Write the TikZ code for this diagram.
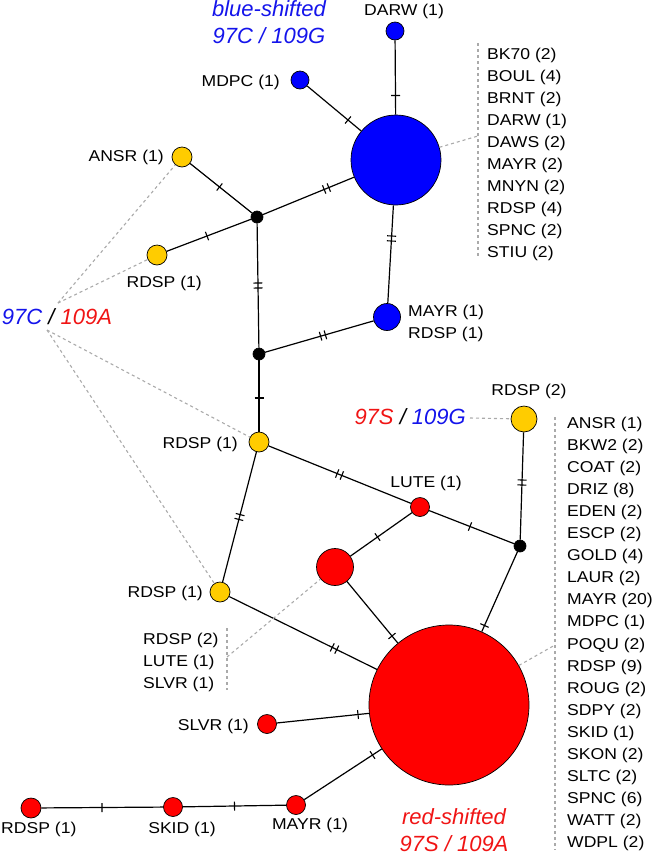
\documentclass[tikz,border=0pt]{standalone}
\usepackage{fontspec}
\setmainfont{Liberation Sans}[FakeStretch=1.12]
\newfontfamily\labfont{Liberation Sans}
\definecolor{nblue}{RGB}{0,0,255}
\definecolor{nred}{RGB}{255,0,0}
\definecolor{nyel}{RGB}{255,204,0}
\definecolor{dgray}{RGB}{170,170,170}
\definecolor{tblue}{RGB}{20,20,235}
\definecolor{tred}{RGB}{240,20,20}
\newcommand\lnk[3]{\draw[cn] (#1) -- (#2); \path (#1.center) -- (#2.center) pic[pos=0.5,sloped]{#3};}
\begin{document}
\begin{tikzpicture}[x=1pt,y=-1pt,
  hap/.style={circle,draw=black,line width=0.7pt,inner sep=0pt,minimum size=#1},
  bl/.style={hap=#1,fill=nblue},
  rd/.style={hap=#1,fill=nred},
  yl/.style={hap=#1,fill=nyel},
  mv/.style={hap=12pt,fill=black},
  cn/.style={line width=1.2pt,black},
  dsh/.style={line width=1.1pt,dgray,dash pattern=on 3pt off 3pt},
  lbl/.style={font=\fontsize{15.7}{22}\selectfont,inner sep=0pt},
  itl/.style={font=\labfont\itshape\fontsize{22}{27}\selectfont,inner sep=0pt},
  tk/.pic={\draw[line width=1.1pt] (0,-4.5pt) -- (0,4.5pt);},
  tktwo/.pic={\draw[line width=1.1pt] (-2.5pt,-4.5pt) -- (-2.5pt,4.5pt) (2.5pt,-4.5pt) -- (2.5pt,4.5pt);}
]
\useasboundingbox (0,0) rectangle (653,855);

% haplotype nodes
\node[bl=18pt] (darw) at (395,31) {};
\node[bl=18pt] (mdpc) at (300,80) {};
\node[bl=90pt] (bb) at (396,160) {};
\node[bl=27pt] (mayrb) at (387,317) {};
\node[mv] (b1) at (257,217) {};
\node[mv] (b2) at (259,354) {};
\node[mv] (b3) at (520,546) {};
\node[yl=20pt] (ansr) at (182,157) {};
\node[yl=20pt] (rdspa) at (157,255) {};
\node[yl=20pt] (rdspc) at (259,442) {};
\node[yl=26pt] (rdspd) at (524,419) {};
\node[yl=20pt] (rdspe) at (220,592) {};
\node[rd=19pt] (lute) at (420,507) {};
\node[rd=37pt] (mr) at (335,567) {};
\node[rd=160pt] (br) at (449,705) {};
\node[rd=19pt] (slvr) at (267,724) {};
\node[rd=20pt] (rdspf) at (31,808) {};
\node[rd=19pt] (skid) at (173,807) {};
\node[rd=19pt] (mayrr) at (296,805) {};

% connectors with mutation ticks
\lnk{darw}{bb}{tk}
\lnk{mdpc}{bb}{tk}
\lnk{b1}{bb}{tktwo}
\lnk{bb}{mayrb}{tktwo}
\lnk{ansr}{b1}{tk}
\lnk{rdspa}{b1}{tk}
\lnk{b1}{b2}{tktwo}
\lnk{b2}{mayrb}{tktwo}
\lnk{b2}{rdspc}{tk}
\lnk{rdspc}{lute}{tktwo}
\lnk{lute}{b3}{tk}
\lnk{rdspc}{rdspe}{tktwo}
\lnk{lute}{mr}{tk}
\lnk{rdspd}{b3}{tktwo}
\lnk{b3}{br}{tk}
\lnk{mr}{br}{tk}
\lnk{rdspe}{br}{tktwo}
\lnk{slvr}{br}{tk}
\lnk{mayrr}{br}{tk}
\lnk{skid}{mayrr}{tk}
\lnk{rdspf}{skid}{tk}

% labels
\node[lbl,anchor=base] (tdarw) at (404,15) {DARW (1)};
\node[lbl,anchor=base east] (tmdpc) at (280,86) {MDPC (1)};
\node[lbl,anchor=base east] (tansr) at (164,161) {ANSR (1)};
\node[lbl,anchor=base east] (trdspa) at (202,287) {RDSP (1)};
\node[lbl,anchor=base west] (tmayrb) at (408,316) {MAYR (1)};
\node[lbl,anchor=base west] (trdspb) at (408,338) {RDSP (1)};
\node[lbl,anchor=base] (trdspd) at (529,395) {RDSP (2)};
\node[lbl,anchor=base east] (trdspc) at (238,448) {RDSP (1)};
\node[lbl,anchor=base] (tlute) at (426,487) {LUTE (1)};
\node[lbl,anchor=base east] (trdspe) at (203,597) {RDSP (1)};
\node[lbl,anchor=base east] (tslvr) at (249,730) {SLVR (1)};
\node[lbl,anchor=base west] (trdspf) at (1,833) {RDSP (1)};
\node[lbl,anchor=base] (tskid) at (182,833) {SKID (1)};
\node[lbl,anchor=base] (tmayrr) at (310,829) {MAYR (1)};

% lists
\foreach \t [count=\i] in {BK70 (2),BOUL (4),BRNT (2),DARW (1),DAWS (2),MAYR (2),MNYN (2),RDSP (4),SPNC (2),STIU (2)}
  \node[lbl,anchor=base west] (la\i) at (487,{59+22.1*(\i-1)}) {\t};
\foreach \t [count=\i] in {ANSR (1),BKW2 (2),COAT (2),DRIZ (8),EDEN (2),ESCP (2),GOLD (4),LAUR (2),MAYR (20),MDPC (1),POQU (2),RDSP (9),ROUG (2),SDPY (2),SKID (1),SKON (2),SLTC (2),SPNC (6),WATT (2),WDPL (2)}
  \node[lbl,anchor=base west] (lb\i) at (567,{428+22.1*(\i-1)}) {\t};
\foreach \t [count=\i] in {RDSP (2),LUTE (1),SLVR (1)}
  \node[lbl,anchor=base west] (lc\i) at (143,{644+22*(\i-1)}) {\t};

% italic group labels
\node[itl,anchor=base,text=tblue] (tbs1) at (269,16) {blue-shifted};
\node[itl,anchor=base,text=tblue] (tbs2) at (269,43) {97C / 109G};
\node[itl,anchor=base,text=tred] (trs1) at (454,824) {red-shifted};
\node[itl,anchor=base,text=tred] (trs2) at (454,851) {97S / 109A};
\node[itl,anchor=base] (t97c) at (57,324) {\textcolor{tblue}{97C} / \textcolor{tred}{109A}};
\node[itl,anchor=base east] (t97s) at (466,424) {\textcolor{tred}{97S} / \textcolor{tblue}{109G}};

% grey dashed brackets and leaders
\draw[dsh] (478,43) -- (478,258);
\draw[dsh] (555,417) -- (555,850);
\draw[dsh] (227,628) -- (227,690);
\coordinate (c1) at (478,136);
\coordinate (c2) at (555,645);
\coordinate (c3) at (227,657);
\coordinate (c4) at (58,303);
\coordinate (c5) at (47,330);
\coordinate (c6) at (470,418);
\draw[dsh] (bb) -- (c1);
\draw[dsh] (br) -- (c2);
\draw[dsh] (c3) -- (mr);
\draw[dsh] (c6) -- (rdspd);
\draw[dsh] (c4) -- (ansr);
\draw[dsh] (c4) -- (rdspa);
\draw[dsh] (c5) -- (rdspc);
\draw[dsh] (c5) -- (rdspe);
\end{tikzpicture}
\end{document}
